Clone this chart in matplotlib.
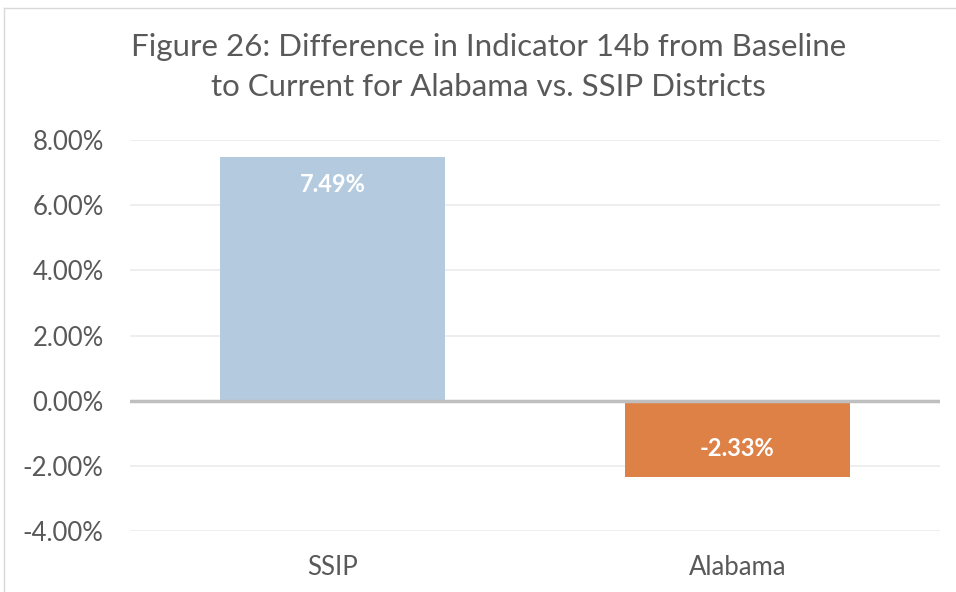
import matplotlib.pyplot as plt
from matplotlib.ticker import FuncFormatter
from matplotlib.lines import Line2D

# データ
categories = ["SSIP", "Alabama"]
values = [7.49, -2.33]
bar_colors = ["#B4CBDF", "#DE8147"]
title = "Figure 26: Difference in Indicator 14b from Baseline\nto Current for Alabama vs. SSIP Districts"

plt.rcParams["font.family"] = ["Lato", "DejaVu Sans"]

fig = plt.figure(figsize=(9.56, 5.92), dpi=100)
ax = fig.add_axes([0.136, 0.103, 0.847, 0.6605])

x = range(len(categories))
bars = ax.bar(x, values, width=0.556, color=bar_colors, zorder=2)

ax.set_ylim(-4, 8)
ax.set_xlim(-0.5, 1.5)
ax.set_yticks([-4, -2, 0, 2, 4, 6, 8])
ax.yaxis.set_major_formatter(FuncFormatter(lambda v, p: f"{v:.2f}%"))
ax.set_xticks(list(x))
ax.set_xticklabels(categories)
ax.grid(True, axis="y", color="#EBEBEB", lw=1.2, zorder=0)
ax.axhline(0, color="#BFBFBF", lw=2.5, zorder=3)
for s in ax.spines.values():
    s.set_visible(False)
ax.tick_params(length=0, labelsize=18.5, labelcolor="#595959")
ax.tick_params(axis="x", pad=17)
ax.tick_params(axis="y", pad=19)

# データラベル
for b, v in zip(bars, values):
    off = -28 if v > 0 else 28
    ax.annotate(f"{v:.2f}%", (b.get_x() + b.get_width() / 2, v),
                xytext=(0, off), textcoords="offset pixels",
                ha="center", va="center", color="white",
                fontsize=17, fontweight="bold", zorder=4)

fig.text(0.511, 0.887, title, ha="center", va="center", fontsize=22.5,
         color="#595959", linespacing=1.5)

# 枠線
fig.add_artist(Line2D([4 / 956, 4 / 956], [0, 1 - 8 / 592], transform=fig.transFigure, color="#D9D9D9", lw=1))
fig.add_artist(Line2D([4 / 956, 1], [1 - 8 / 592, 1 - 8 / 592], transform=fig.transFigure, color="#D9D9D9", lw=1))

fig.savefig("out.png", dpi=100)
